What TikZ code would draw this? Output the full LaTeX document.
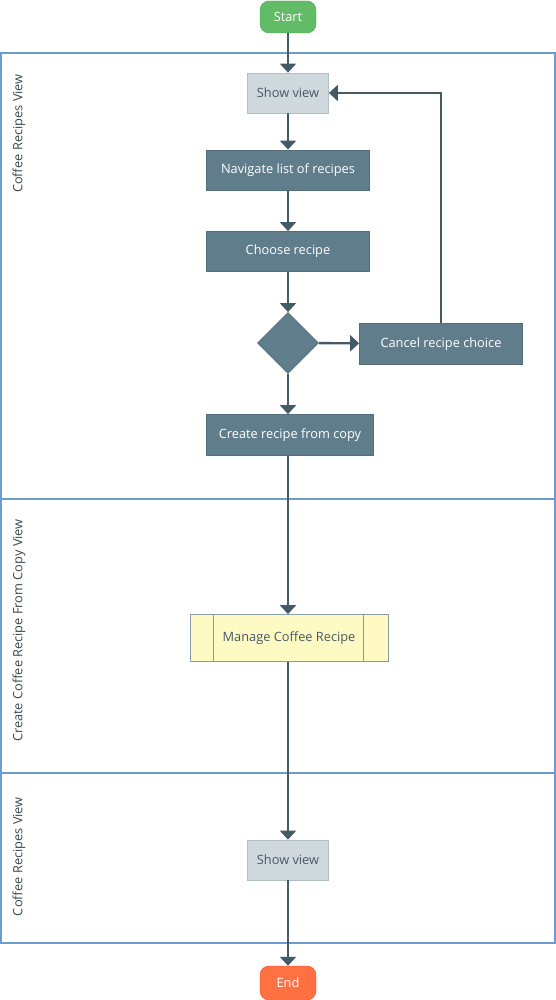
\documentclass[tikz,border=0pt]{standalone}
\usepackage{fontspec}
\setmainfont{Open Sans}
\usetikzlibrary{arrows.meta,shapes.geometric,calc}
\definecolor{lane}{HTML}{6C9BCF}
\definecolor{dark}{HTML}{607D8B}
\definecolor{darkb}{HTML}{546E7A}
\definecolor{conn}{HTML}{455A64}
\definecolor{light}{HTML}{CFD8DC}
\definecolor{lightb}{HTML}{B0BEC5}
\definecolor{startg}{HTML}{62BB66}
\definecolor{startb}{HTML}{4FA953}
\definecolor{endo}{HTML}{FF7043}
\definecolor{endb}{HTML}{F4511E}
\definecolor{yel}{HTML}{FFF9C4}
\definecolor{yelb}{HTML}{8A9BA6}
\definecolor{lbl}{HTML}{37474F}
\begin{document}
\begin{tikzpicture}[x=1pt,y=-1pt,
  every node/.style={inner sep=0pt, font=\fontsize{12.8}{15}\selectfont},
  terminal/.style={rounded corners=9pt, minimum width=56pt, minimum height=32pt, text=white},
  lightbox/.style={fill=light, draw=lightb, line width=0.8pt, minimum width=81pt, minimum height=40pt, text=conn},
  darkbox/.style={fill=dark, draw=darkb, line width=0.8pt, minimum width=163pt, minimum height=40pt, text=white},
  lanelabel/.style={rotate=90, anchor=east, text=lbl},
  conn/.style={draw=conn, line width=2.4pt, -{Triangle[width=16pt,length=9pt]}},
  lanerule/.style={draw=lane, line width=1.2pt}]
\useasboundingbox (0,0) rectangle (556,1000);
% lanes
\draw[lanerule] (1,53) rectangle (555,943);
\draw[lanerule] (1,499) -- (555,499);
\draw[lanerule] (1,773) -- (555,773);
\node[lanelabel] (l1) at (19,74) {Coffee Recipes View};
\node[lanelabel] (l2) at (19,519) {Create Coffee Recipe From Copy View};
\node[lanelabel] (l3) at (19,797) {Coffee Recipes View};
% nodes
\node[terminal, fill=startg, draw=startb] (start) at (288,17) {Start};
\node[lightbox] (show1) at (288,93) {Show view};
\node[darkbox] (nav) at (288,170) {Navigate list of recipes};
\node[darkbox] (choose) at (288,251.5) {Choose recipe};
\node[diamond, fill=dark, draw=darkb, line width=0.8pt, minimum width=61pt, minimum height=61pt, aspect=1] (dec) at (288,343) {};
\node[darkbox, minimum height=41pt] (cancel) at (441,343.7) {Cancel recipe choice};
\node[darkbox, minimum width=167pt, minimum height=41pt] (create) at (290,435) {Create recipe from copy};
\node[fill=yel, draw=yelb, line width=0.8pt, minimum width=198pt, minimum height=47pt, text=conn] (manage) at (289,638) {Manage Coffee Recipe};
\draw[yelb, line width=0.8pt] ($(manage.north west)+(24,0)$) -- ($(manage.south west)+(24,0)$);
\draw[yelb, line width=0.8pt] ($(manage.north east)+(-25,0)$) -- ($(manage.south east)+(-25,0)$);
\node[lightbox] (show2) at (288,860) {Show view};
\node[terminal, fill=endo, draw=endb, minimum height=34pt] (end) at (288,983) {End};
% connectors
\draw[conn] (start) -- (show1);
\draw[conn] (show1) -- (nav);
\draw[conn] (nav) -- (choose);
\draw[conn] (choose) -- (dec);
\draw[conn] (dec) -- (cancel);
\draw[conn] (dec.south) -- (create.north -| dec.south);
\draw[conn] (create.south -| dec.south) -- (manage.north -| dec.south);
\draw[conn] (manage.south -| dec.south) -- (show2);
\draw[conn] (show2) -- (end);
\draw[conn] (cancel.north) |- (show1.east);
\end{tikzpicture}
\end{document}
